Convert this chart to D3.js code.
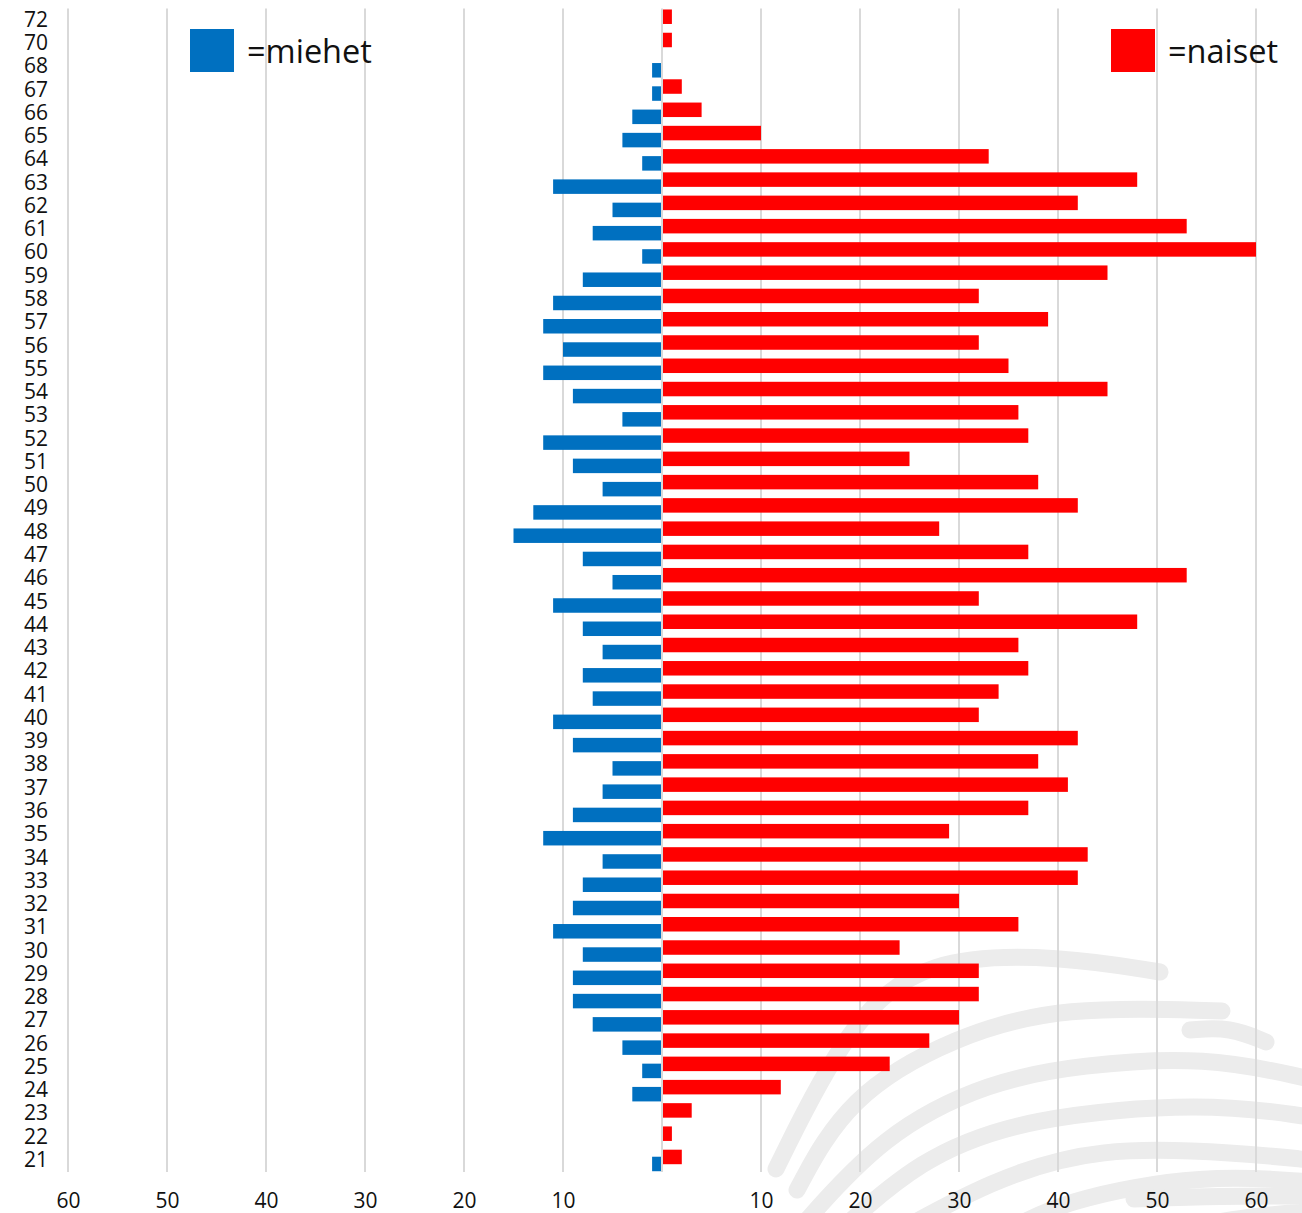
<!DOCTYPE html>
<html>
<head>
<meta charset="utf-8">
<script src="https://cdn.jsdelivr.net/npm/d3@7"></script>
<style>
  body { margin: 0; background: #fff; }
  svg text { font-family: "Open Sans", sans-serif; fill: #111; }
</style>
</head>
<body>
<script>
// ages, top to bottom (71 and 69 are missing in the original)
const ages = [72, 70, 68, 67, 66, 65, 64, 63, 62, 61, 60, 59, 58, 57, 56, 55, 54, 53, 52, 51,
  50, 49, 48, 47, 46, 45, 44, 43, 42, 41, 40, 39, 38, 37, 36, 35, 34, 33, 32, 31,
  30, 29, 28, 27, 26, 25, 24, 23, 22, 21]

// naiset (women)
const naiset = [1, 1, 0, 2, 4, 10, 33, 48, 42, 53, 60, 45, 32, 39, 32, 35, 45, 36, 37, 25,
  38, 42, 28, 37, 53, 32, 48, 36, 37, 34, 32, 42, 38, 41, 37, 29, 43, 42, 30, 36,
  24, 32, 32, 30, 27, 23, 12, 3, 1, 2]

// miehet (men)
const miehet = [0, 0, 1, 1, 3, 4, 2, 11, 5, 7, 2, 8, 11, 12, 10, 12, 9, 4, 12, 9,
  6, 13, 15, 8, 5, 11, 8, 6, 8, 7, 11, 9, 5, 6, 9, 12, 6, 8, 9, 11,
  8, 9, 9, 7, 4, 2, 3, 0, 0, 1]

const ticks = [10, 20, 30, 40, 50, 60]
const gridVals = [0, 10, 20, 30, 40, 50, 60]

const w = 1302
const h = 1213
const cx = 662

const svg = d3.select('body')
    .append('svg')
    .attr('width', w)
    .attr('height', h)

// scales
const xR = d3.scaleLinear().domain([0, 60]).range([cx, 1256])
const xL = d3.scaleLinear().domain([0, 60]).range([cx, 68])
const y = d3.scaleBand()
    .domain(ages)
    .range([8.6, 1172.1])
    .paddingInner(0.075)
    .paddingOuter(0.0375)

const barH = 14.5
const shift = y.bandwidth() - barH

// background watermark, fingerprint-like bands in the lower right (decoration only)
const bands = [
    [[776, 1169], [847, 1025], [926, 956], [1063, 956], [1160, 972]],
    [[797, 1190], [847, 1097], [955, 1036], [1063, 1006], [1222, 1011]],
    [[1190, 1030], [1230, 1027], [1266, 1042]],
    [[794, 1235], [883, 1133], [991, 1081], [1080, 1065], [1206, 1056], [1310, 1079]],
    [[830, 1240], [919, 1158], [1027, 1117], [1206, 1102], [1310, 1117]],
    [[883, 1240], [991, 1180], [1098, 1146], [1242, 1153], [1310, 1160]],
    [[991, 1240], [1063, 1199], [1206, 1174], [1310, 1182]],
    [[1134, 1199], [1220, 1196], [1310, 1196]],
    [[1200, 1225], [1260, 1215], [1310, 1212]]
]
const wmLine = d3.line().curve(d3.curveBasis)
svg.append('g')
    .selectAll('path')
    .data(bands)
    .enter()
    .append('path')
    .attr('d', wmLine)
    .attr('fill', 'none')
    .attr('stroke', '#ececec')
    .attr('stroke-width', 17)
    .attr('stroke-linecap', 'round')

// gridlines
const gTop = y.range()[0], gBottom = y.range()[1]
svg.append('g')
    .selectAll('line')
    .data(gridVals.map(v => xR(v)).concat(gridVals.slice(1).map(v => xL(v))))
    .enter()
    .append('line')
    .attr('x1', d => d).attr('x2', d => d)
    .attr('y1', gTop).attr('y2', gBottom)
    .attr('stroke', '#d9d9d9')
    .attr('stroke-width', 2)

// women bars
svg.append('g')
    .selectAll('rect')
    .data(ages)
    .enter()
    .filter((d, i) => naiset[i] > 0)
    .append('rect')
    .attr('x', cx + 1)
    .attr('y', d => y(d))
    .attr('width', d => xR(naiset[ages.indexOf(d)]) - cx - 1)
    .attr('height', barH)
    .style('fill', '#ff0000')

// men bars
svg.append('g')
    .selectAll('rect')
    .data(ages)
    .enter()
    .filter((d, i) => miehet[i] > 0)
    .append('rect')
    .attr('x', d => xL(miehet[ages.indexOf(d)]))
    .attr('y', d => y(d) + shift)
    .attr('width', d => cx - 1 - xL(miehet[ages.indexOf(d)]))
    .attr('height', barH)
    .style('fill', '#0070c0')

// age labels
const yAxis = svg.append('g')
    .attr('transform', 'translate(48,-1)')
    .call(d3.axisLeft(y).tickSize(0).tickPadding(0))
yAxis.select('.domain').remove()
yAxis.selectAll('text').style('font-size', '21px').attr('dy', '0.36em')

// bottom labels, both sides
const axR = svg.append('g')
    .attr('transform', 'translate(0,1200)')
    .call(d3.axisBottom(xR).tickValues(ticks).tickSize(0).tickPadding(0))
const axL = svg.append('g')
    .attr('transform', 'translate(0,1200)')
    .call(d3.axisBottom(xL).tickValues(ticks).tickSize(0).tickPadding(0))
;[axR, axL].forEach(a => {
    a.select('.domain').remove()
    a.selectAll('text').style('font-size', '21px').attr('dy', '0.36em')
})

// legend
const legend = [
    { label: '=miehet', color: '#0070c0', x: 190 },
    { label: '=naiset', color: '#ff0000', x: 1111 }
]
const lg = svg.append('g')
    .selectAll('g')
    .data(legend)
    .enter()
    .append('g')
    .attr('transform', d => `translate(${d.x},29)`)
lg.append('rect')
    .attr('width', 44).attr('height', 43)
    .style('fill', d => d.color)
lg.append('text')
    .attr('x', 57).attr('y', 34)
    .style('font-size', '32.5px')
    .text(d => d.label)
</script>
</body>
</html>
